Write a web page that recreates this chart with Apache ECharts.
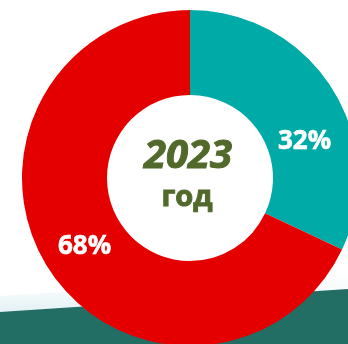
<!DOCTYPE html>
<html>
<head>
<meta charset="utf-8">
<script src="https://cdn.jsdelivr.net/npm/echarts@6/dist/echarts.min.js"></script>
<style>
  html, body { margin: 0; padding: 0; background: #ffffff; }
  #chart { width: 348px; height: 344px; }
</style>
</head>
<body>
<div id="chart"></div>
<script>
// Shares for the year
const categories = ['Доля 1', 'Доля 2'];
const shares = [32, 68];
const colors = ['#00aaa6', '#e50000'];
const yearLabel = '2023';
const yearSuffix = 'год';

// per-slice nudges for the percentage labels
const labelOffsets = [[6, 32], [3, 0]];

const chart = echarts.init(document.getElementById('chart'));

chart.setOption({
  animation: false,
  graphic: [
    {
      // faint haze just above the dark band
      type: 'polygon',
      z: -2,
      shape: { points: [[0, 296], [348, 274], [348, 292], [0, 314]] },
      style: {
        fill: new echarts.graphic.LinearGradient(0, 0, 0, 1, [
          { offset: 0, color: 'rgba(235,245,247,0)' },
          { offset: 1, color: 'rgba(225,240,243,1)' }
        ])
      }
    },
    {
      // dark diagonal band along the bottom
      type: 'polygon',
      z: -1,
      shape: { points: [[0, 312], [348, 289], [348, 344], [0, 344]] },
      style: { fill: '#226e64' }
    },
    {
      type: 'text',
      z: 10,
      x: 188,
      y: 157,
      style: {
        text: yearLabel,
        align: 'center',
        verticalAlign: 'middle',
        font: 'italic bold 40px "Open Sans", "DejaVu Sans", sans-serif',
        fill: '#516a2b',
        stroke: '#516a2b',
        lineWidth: 1
      }
    },
    {
      type: 'text',
      z: 10,
      x: 187,
      y: 198,
      style: {
        text: yearSuffix,
        align: 'center',
        verticalAlign: 'middle',
        font: 'bold 29px "Open Sans", "DejaVu Sans", sans-serif',
        fill: '#516a2b',
        stroke: '#516a2b',
        lineWidth: 1
      }
    }
  ],
  series: [{
    type: 'pie',
    center: [190, 178],
    radius: [83, 168],
    startAngle: 90,
    clockwise: true,
    silent: true,
    label: {
      show: true,
      position: 'inside',
      formatter: '{c}%',
      color: '#ffffff',
      fontWeight: 'bold',
      fontSize: 26,
      fontFamily: '"Open Sans", "DejaVu Sans", sans-serif',
      textBorderColor: '#ffffff',
      textBorderWidth: 0.6
    },
    labelLine: { show: false },
    itemStyle: { borderWidth: 0 },
    data: categories.map((name, i) => ({
      name: name,
      value: shares[i],
      itemStyle: { color: colors[i] },
      label: { offset: labelOffsets[i] }
    }))
  }]
});
</script>
</body>
</html>
